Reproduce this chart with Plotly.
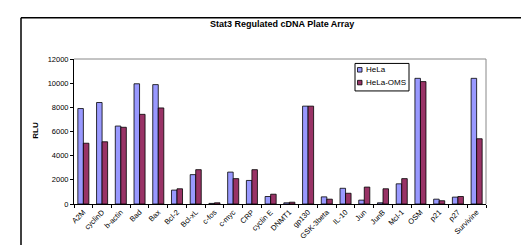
import plotly.graph_objects as go

genes = ["A2M", "cyclinD", "b-actin", "Bad", "Bax", "Bcl-2", "Bcl-xL", "c-fos", "c-myc", "CRP",
         "cyclin E", "DNMT1", "gp130", "GSK-3beta", "IL-10", "Jun", "JunB", "Mcl-1", "OSM",
         "p21", "p27", "Survivine"]
hela = [7900, 8400, 6450, 9950, 9880, 1150, 2430, 50, 2640, 1950,
        620, 100, 8100, 590, 1300, 320, 100, 1670, 10400,
        400, 570, 10400]
hela_oms = [5030, 5150, 6350, 7420, 7950, 1260, 2840, 100, 2100, 2840,
            810, 150, 8100, 400, 890, 1400, 1260, 2100, 10130,
            270, 620, 5400]
series_names = ["HeLa", "HeLa-OMS"]
series_colors = ["#9999FF", "#993366"]
title_text = "Stat3 Regulated cDNA Plate Array"
y_title = "RLU"

W, H = 529, 245
L, R, T, B = 66, 51, 51, 46.5
pw, ph = W - L - R, H - T - B

def px(x):
    return (x - L) / pw

def py(y):
    return (H - B - y) / ph

fig = go.Figure()
for name, vals, col in zip(series_names, [hela, hela_oms], series_colors):
    fig.add_trace(go.Bar(x=genes, y=vals, name=name, marker=dict(color=col, line=dict(color="black", width=0.8)),
                         showlegend=False))

font = "Liberation Sans, Arial, sans-serif"
shapes = [
    dict(type="line", xref="paper", yref="paper", x0=px(13), x1=px(13), y0=py(9), y1=py(250),
         line=dict(color="black", width=1.5)),
    dict(type="line", xref="paper", yref="paper", x0=px(13), x1=px(535), y0=py(9), y1=py(9),
         line=dict(color="black", width=1.5)),
    dict(type="line", xref="paper", yref="paper", x0=0, x1=1, y0=1, y1=1, line=dict(color="#888888", width=1)),
    dict(type="line", xref="paper", yref="paper", x0=1, x1=1, y0=0, y1=1, line=dict(color="#888888", width=1)),
    dict(type="rect", xref="paper", yref="paper", x0=px(347), x1=px(401), y0=py(83.5), y1=py(55.5),
         line=dict(color="black", width=1), fillcolor="white"),
]
annotations = [
    dict(text="<b>" + title_text + "</b>", xref="paper", yref="paper", x=px(274), y=py(15),
         showarrow=False, font=dict(family=font, size=9, color="black"), xanchor="center", yanchor="middle"),
    dict(text="<b>" + y_title + "</b>", xref="paper", yref="paper", x=px(28), y=py(124),
         showarrow=False, textangle=-90, font=dict(family=font, size=8, color="black"),
         xanchor="center", yanchor="middle"),
]
for i, (name, col) in enumerate(zip(series_names, series_colors)):
    cy = 62 + i * 13
    shapes.append(dict(type="rect", xref="paper", yref="paper", x0=px(349.5), x1=px(354), y0=py(cy + 2.3),
                       y1=py(cy - 2.3), line=dict(color="black", width=0.8), fillcolor=col))
    annotations.append(dict(text=name, xref="paper", yref="paper", x=px(356), y=py(cy), showarrow=False,
                            font=dict(family=font, size=8, color="black"), xanchor="left", yanchor="middle"))

fig.update_layout(
    width=W, height=H,
    margin=dict(l=L, r=R, t=T, b=B, pad=0),
    paper_bgcolor="white", plot_bgcolor="white",
    barmode="group", bargap=0.41, bargroupgap=0,
    shapes=shapes, annotations=annotations,
    font=dict(family=font, color="black"),
    xaxis=dict(tickangle=-45, tickfont=dict(size=7.5), showline=True, linecolor="black", linewidth=1,
               ticks="outside", tickson="boundaries", ticklen=3, tickcolor="black", showgrid=False),
    yaxis=dict(range=[0, 12000], dtick=2000, tickformat="d", tickfont=dict(size=7.5), showline=True,
               linecolor="black", linewidth=1, ticks="outside", ticklen=3, tickcolor="black",
               showgrid=False, zeroline=False),
)
fig.write_html("out.html")
